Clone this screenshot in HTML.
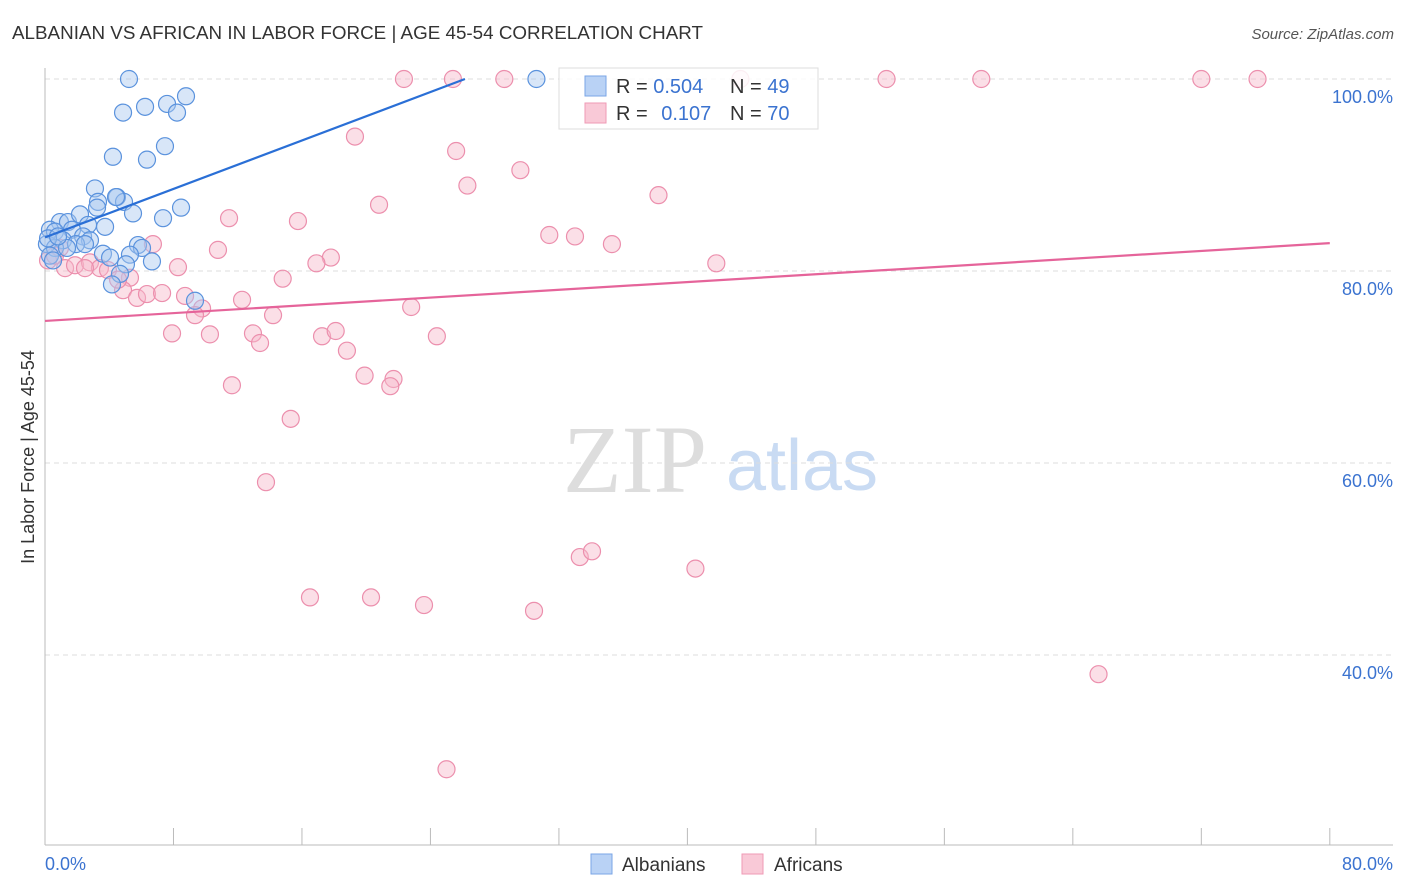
<!DOCTYPE html>
<html><head><meta charset="utf-8"><style>
body{margin:0;background:#fff;font-family:"Liberation Sans",sans-serif}
svg{display:block}
</style></head><body>
<svg id="chart" width="1406" height="892">
<text x="12" y="39" font-size="18" fill="#333" textLength="691" lengthAdjust="spacingAndGlyphs">ALBANIAN VS AFRICAN IN LABOR FORCE | AGE 45-54 CORRELATION CHART</text>
<text x="1394" y="39" font-size="15" fill="#555" font-style="italic" text-anchor="end">Source: ZipAtlas.com</text>
<g>
<text x="635" y="492" font-size="96" fill="#ddd" font-family="Liberation Serif,serif" text-anchor="middle">ZIP</text>
<text x="802" y="490" font-size="72" fill="#c9dbf3" text-anchor="middle">atlas</text>
</g>
<g id="grid"></g><g id="axes"></g><g id="pts"></g><g id="lines"></g>
<text transform="translate(34,457) rotate(-90)" font-size="18" fill="#333" text-anchor="middle">In Labor Force | Age 45-54</text>
<text x="45" y="870" font-size="18" fill="#3b73d0">0.0%</text>
<text x="1393" y="870" font-size="18" fill="#3b73d0" text-anchor="end">80.0%</text>
<g>
<rect x="559" y="68" width="259" height="61" fill="#fff" fill-opacity="0.85" stroke="#ddd"/>
<rect x="585" y="76" width="21" height="20" fill="#b9d2f5" stroke="#7aa5e6"/>
<rect x="585" y="103" width="21" height="20" fill="#f9c9d7" stroke="#ef9ab5"/>
<text x="616" y="93" font-size="20" fill="#333">R = <tspan fill="#3b73d0">0.504</tspan></text>
<text x="730" y="93" font-size="20" fill="#333">N = <tspan fill="#3b73d0">49</tspan></text>
<text x="616" y="120" font-size="20" fill="#333">R = <tspan fill="#3b73d0" dx="8">0.107</tspan></text>
<text x="730" y="120" font-size="20" fill="#333">N = <tspan fill="#3b73d0">70</tspan></text>
</g>
<g>
<rect x="591" y="854" width="21" height="20" fill="#b9d2f5" stroke="#7aa5e6"/>
<text x="622" y="871" font-size="19" fill="#333">Albanians</text></g>
<g>
<rect x="742" y="854" width="21" height="20" fill="#f9c9d7" stroke="#ef9ab5"/>
<text x="774" y="871" font-size="19" fill="#333">Africans</text></g>
</svg>
<script>
const yTicks=[100,80,60,40];
const yTickLabels=["100.0%","80.0%","60.0%","40.0%"];
const xTicks=[0,8,16,24,32,40,48,56,64,72,80];
const blueX=[5.23,30.6,8.78,7.6,6.23,4.86,8.22,4.23,7.47,6.35,3.11,4.48,3.30,4.92,4.42,5.48,7.35,8.47,0.93,1.43,2.18,3.24,3.74,2.68,0.31,0.62,1.68,2.37,2.80,1.12,1.93,0.12,0.62,1.37,5.79,6.04,3.61,5.29,4.05,6.66,5.04,4.67,4.17,9.34,0.31,0.50,2.49,0.19,0.81];
const blueY=[100,100,98.2,97.4,97.1,96.5,96.5,91.9,93.0,91.6,88.6,87.7,87.2,87.2,87.7,86.0,85.5,86.6,85.1,85.1,85.9,86.6,84.6,84.8,84.3,84.1,84.3,83.6,83.2,83.2,82.8,82.8,82.4,82.4,82.7,82.4,81.8,81.7,81.4,81.0,80.7,79.7,78.6,76.9,81.6,81.1,82.8,83.4,83.6];
const pinkX=[22.35,25.4,28.6,43.3,52.4,58.3,72.0,75.5,19.3,25.6,26.3,29.6,38.2,20.8,11.46,15.75,31.4,33.0,35.3,6.72,10.77,17.8,16.9,8.28,41.8,14.8,0.19,0.62,1.25,1.87,2.80,3.42,3.92,5.29,4.86,5.73,6.35,7.29,8.72,9.78,9.34,12.27,14.2,22.8,7.91,10.27,12.95,13.39,17.25,18.1,18.8,24.4,19.9,21.7,21.5,11.64,15.3,13.76,33.3,34.06,40.5,16.5,20.3,23.6,30.45,65.6,25.0,0.93,2.49,4.55];
const pinkY=[100,100,100,100,100,100,100,100,94.0,92.5,88.9,90.5,87.9,86.9,85.5,85.2,83.75,83.6,82.8,82.8,82.2,81.4,80.8,80.4,80.8,79.2,81.1,81.6,80.3,80.6,80.9,80.3,80.1,79.3,78.0,77.2,77.6,77.7,77.4,76.1,75.4,77.0,75.4,76.25,73.5,73.4,73.5,72.5,73.2,73.75,71.7,73.2,69.1,68.75,68.0,68.1,64.6,58.0,50.2,50.8,49.0,46.0,46.0,45.2,44.6,38.0,28.1,82.4,80.3,79.1];
const blueLine=[[0,83.5],[26.15,100]];
const pinkLine=[[0,74.8],[80,82.9]];
const NS="http://www.w3.org/2000/svg";
const sx=v=>45+v*16.06, sy=v=>79+(100-v)*9.6;
function mk(tag,attrs,parent){const e=document.createElementNS(NS,tag);for(const k in attrs)e.setAttribute(k,attrs[k]);document.getElementById(parent).appendChild(e);return e;}
yTicks.forEach((t,i)=>{
 const g=mk('line',{x1:45,x2:1393,y1:sy(t),y2:sy(t),stroke:'#ddd','stroke-dasharray':'5,4'},'grid');
 
 
 const l=mk('text',{x:1393,y:sy(t)+24,'font-size':18,fill:'#3b73d0','text-anchor':'end'},'grid');
 l.textContent=yTickLabels[i];
 
 
});
const ax=mk('line',{x1:45,x2:45,y1:68,y2:845,stroke:'#bbb'},'axes');


const bx=mk('line',{x1:45,x2:1393,y1:845,y2:845,stroke:'#bbb'},'axes');


xTicks.forEach(t=>{
 const k=mk('line',{x1:sx(t),x2:sx(t),y1:828,y2:845,stroke:'#bbb'},'axes');
 
 
});
function pts(X,Y,fill,stroke,name){X.forEach((x,i)=>{
 const c=mk('circle',{cx:sx(x),cy:sy(Y[i]),r:8.5,fill:fill,'fill-opacity':0.45,stroke:stroke,'stroke-width':1.2},'pts');
 
 
});}
pts(pinkX,pinkY,'#f7b7ca','#ec8fad','african-point');
pts(blueX,blueY,'#a9c8f0','#5a92dd','albanian-point');
const bl=mk('line',{x1:sx(blueLine[0][0]),y1:sy(blueLine[0][1]),x2:sx(blueLine[1][0]),y2:sy(blueLine[1][1]),stroke:'#2a6fd6','stroke-width':2.2},'lines');


const pl=mk('line',{x1:sx(pinkLine[0][0]),y1:sy(pinkLine[0][1]),x2:sx(pinkLine[1][0]),y2:sy(pinkLine[1][1]),stroke:'#e5649a','stroke-width':2.2},'lines');


</script>
</body></html>
